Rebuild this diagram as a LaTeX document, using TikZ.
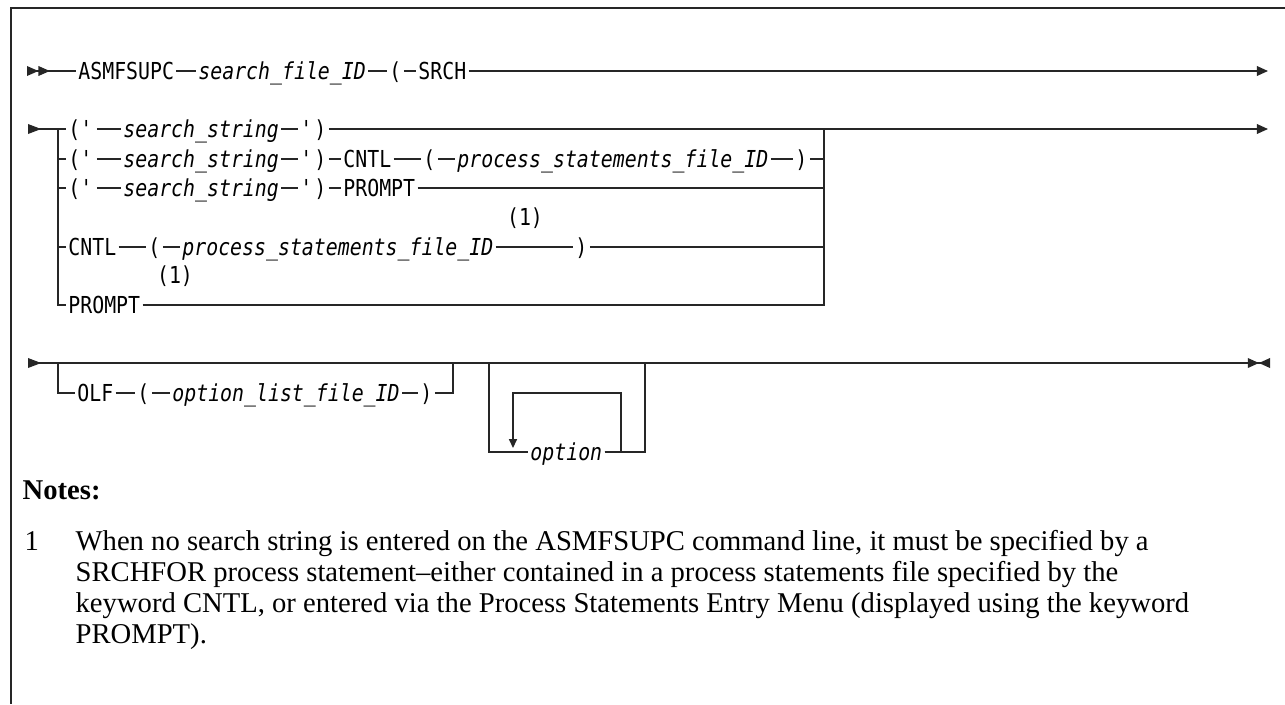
\documentclass[tikz,border=0pt]{standalone}
\usepackage{fontspec}
\usepackage{tikz}
\usetikzlibrary{arrows.meta}
\newfontfamily\rrfont[FakeStretch=0.85]{DejaVu Sans Mono}
\newfontfamily\notefont{Liberation Serif}
\tikzset{
  rr/.style={font=\rrfont\fontsize{13.3pt}{15pt}\selectfont, inner xsep=1pt, inner ysep=0pt, text height=9.7pt, text depth=0pt, anchor=west},
  rrvar/.style={rr, font=\rrfont\fontsize{13.3pt}{15pt}\selectfont\itshape},
  rrnote/.style={font=\rrfont\fontsize{13.3pt}{15pt}\selectfont, inner sep=0pt},
  notes/.style={font=\notefont\fontsize{16.3pt}{17.6pt}\selectfont, inner sep=0pt, anchor=base west},
  frame/.style={line width=0.8pt, draw=black!85},
  rrhead/.style={{Triangle[reversed,length=7.5pt,width=5.5pt]}-},
  rrheadtwo/.style={{Triangle[reversed,length=6.5pt,width=5.5pt]Triangle[reversed,length=6.5pt,width=5.5pt]}-},
  rrtail/.style={-{Triangle[length=6.3pt,width=5.5pt]}},
  rrstop/.style={-{Triangle[length=6.3pt,width=5.5pt]Triangle[reversed,length=6.3pt,width=5.5pt]}},
  rrloop/.style={-{Triangle[length=5pt,width=4.5pt]}}
}
\begin{document}
\begin{tikzpicture}[x=0.02cm, y=-0.02cm, line width=0.75pt, draw=black!85]
\useasboundingbox (0,0) rectangle (1285,704);
\draw[frame] (1285,8) -- (11,8) -- (11,704);

% first line
\coordinate (s1) at (27,71);
\coordinate (a1) at (50,71);
\coordinate (e1) at (1268,71);
\node[rr] (asm) at (76,71) {ASMFSUPC};
\node[rrvar] (sfid) at (196,71) {search\_file\_ID};
\node[rr] (lp1) at (387,71) {(};
\node[rr] (srch) at (416,71) {SRCH};
\draw[rrheadtwo] (s1) -- (a1);
\draw[rrtail] (a1) -- (asm) -- (sfid) -- (lp1) -- (srch) -- (e1);

% second line: search string / CNTL / PROMPT
\coordinate (s2) at (28,129);
\coordinate (a2) at (42,129);
\coordinate (j2) at (58,129);
\coordinate (k2) at (824,129);
\coordinate (e2) at (1268,129);
\node[rr] (lq1) at (66,129) {(\textquotesingle};
\node[rrvar] (ss1) at (121,129) {search\_string};
\node[rr] (rq1) at (298,129) {\textquotesingle)};
\draw[rrhead] (s2) -- (a2);
\draw[rrtail] (a2) -- (j2) -- (lq1) -- (ss1) -- (rq1) -- (k2) -- (e2);

\node[rr] (lq2) at (66,159) {(\textquotesingle};
\node[rrvar] (ss2) at (121,159) {search\_string};
\node[rr] (rq2) at (298,159) {\textquotesingle)};
\node[rr] (cntl2) at (341,159) {CNTL};
\node[rr] (lp2) at (421,159) {(};
\node[rrvar] (psf2) at (455,159) {process\_statements\_file\_ID};
\node[rr] (rp2) at (793,159) {)};
\draw (j2) |- (lq2) -- (ss2) -- (rq2) -- (cntl2) -- (lp2) -- (psf2) -- (rp2) -| (k2);

\node[rr] (lq3) at (66,188) {(\textquotesingle};
\node[rrvar] (ss3) at (121,188) {search\_string};
\node[rr] (rq3) at (298,188) {\textquotesingle)};
\node[rr] (pr3) at (341,188) {PROMPT};
\draw (j2) |- (lq3) -- (ss3) -- (rq3) -- (pr3) -| (k2);

\node[rr] (cntl4) at (66,247) {CNTL};
\node[rr] (lp4) at (146,247) {(};
\node[rrvar] (psf4) at (180,247) {process\_statements\_file\_ID};
\node[rr] (rp4) at (573,247) {)};
\node[rrnote] (fn4) at (525,218) {(1)};
\draw (j2) |- (cntl4) -- (lp4) -- (psf4) -- (rp4) -| (k2);

\node[rr] (pr5) at (66,305) {PROMPT};
\node[rrnote] (fn5) at (175,276) {(1)};
\draw (j2) |- (pr5) -| (k2);

% third line: OLF and repeated option
\coordinate (s3) at (28,363);
\coordinate (a3) at (42,363);
\coordinate (j3) at (58,363);
\coordinate (k3) at (453,363);
\coordinate (r3) at (489,363);
\coordinate (m3) at (645,363);
\coordinate (e3) at (1270,363);
\draw[rrhead] (s3) -- (a3);
\draw[rrstop] (a3) -- (j3) -- (k3) -- (r3) -- (m3) -- (e3);

\node[rr] (olf) at (75,393) {OLF};
\node[rr] (lp6) at (135,393) {(};
\node[rrvar] (olfid) at (170,393) {option\_list\_file\_ID};
\node[rr] (rp6) at (418,393) {)};
\draw (j3) |- (olf) -- (lp6) -- (olfid) -- (rp6) -| (k3);

\node[rrvar] (opt) at (528,452) {option};
\coordinate (lo1) at (621,393);
\coordinate (lo2) at (513,393);
\coordinate (lo3) at (513,448);
\draw (r3) |- (opt) -| (m3);
\draw[rrloop] (opt) -| (lo1) -- (lo2) -- (lo3);

% notes
\node[notes] (ntitle) at (22,499) {\bfseries Notes:};
\node[notes] (nnum) at (24,550) {1};
\node[notes, align=left] (ntext) at (75,643) {When no search string is entered on the ASMFSUPC command line, it must be specified by a\\
SRCHFOR process statement–either contained in a process statements file specified by the\\
keyword CNTL, or entered via the Process Statements Entry Menu (displayed using the keyword\\
PROMPT).};
\end{tikzpicture}
\end{document}
